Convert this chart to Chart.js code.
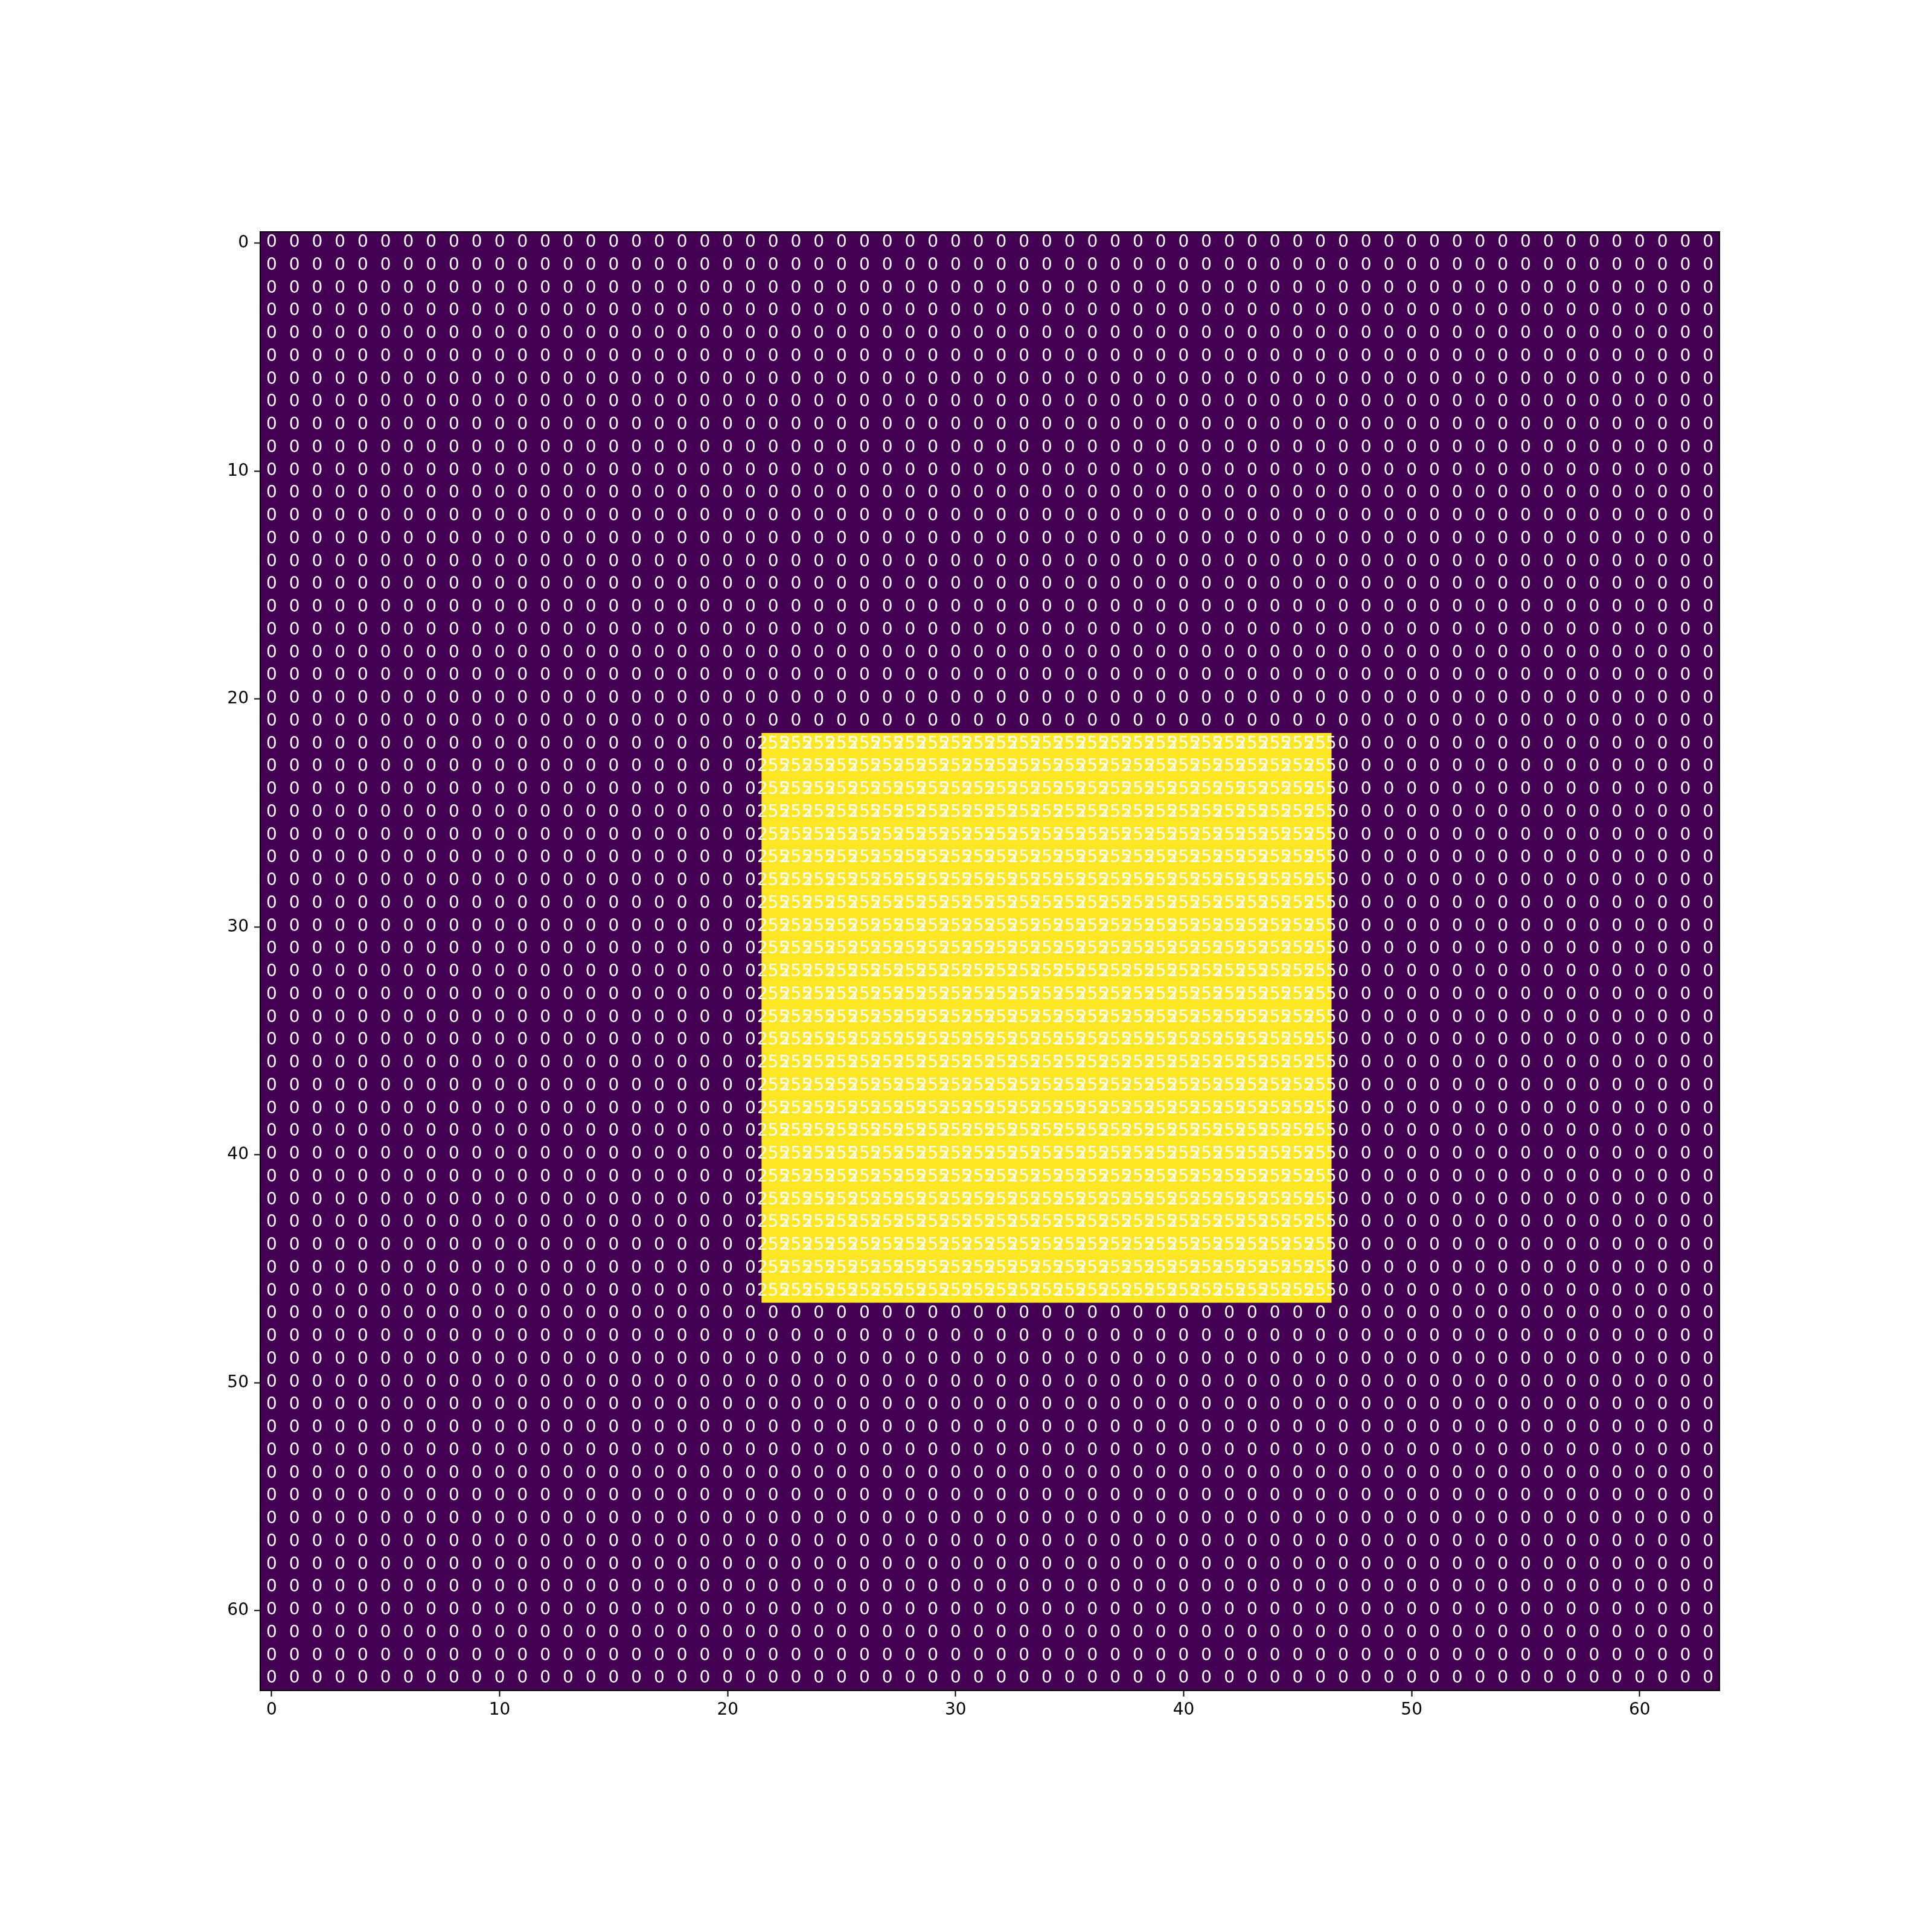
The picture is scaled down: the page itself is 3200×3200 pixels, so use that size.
<!DOCTYPE html>
<html>
<head>
<meta charset="utf-8">
<script src="https://cdn.jsdelivr.net/npm/chart.js@4.4.1/dist/chart.umd.min.js"></script>
<style>
  html, body { margin: 0; padding: 0; background: #ffffff; }
  canvas { display: block; }
</style>
</head>
<body>
<canvas id="mycan" width="3200" height="3200"></canvas>
<script>
// each row of the image, '.' = 0 and '#' = 255 (64 rows x 64 columns)
var rows = [
  "................................................................",
  "................................................................",
  "................................................................",
  "................................................................",
  "................................................................",
  "................................................................",
  "................................................................",
  "................................................................",
  "................................................................",
  "................................................................",
  "................................................................",
  "................................................................",
  "................................................................",
  "................................................................",
  "................................................................",
  "................................................................",
  "................................................................",
  "................................................................",
  "................................................................",
  "................................................................",
  "................................................................",
  "................................................................",
  "......................#########################.................",
  "......................#########################.................",
  "......................#########################.................",
  "......................#########################.................",
  "......................#########################.................",
  "......................#########################.................",
  "......................#########################.................",
  "......................#########################.................",
  "......................#########################.................",
  "......................#########################.................",
  "......................#########################.................",
  "......................#########################.................",
  "......................#########################.................",
  "......................#########################.................",
  "......................#########################.................",
  "......................#########################.................",
  "......................#########################.................",
  "......................#########################.................",
  "......................#########################.................",
  "......................#########################.................",
  "......................#########################.................",
  "......................#########################.................",
  "......................#########################.................",
  "......................#########################.................",
  "......................#########################.................",
  "................................................................",
  "................................................................",
  "................................................................",
  "................................................................",
  "................................................................",
  "................................................................",
  "................................................................",
  "................................................................",
  "................................................................",
  "................................................................",
  "................................................................",
  "................................................................",
  "................................................................",
  "................................................................",
  "................................................................",
  "................................................................",
  "................................................................"
];
var cellValues = { ".": 0, "#": 255 };
var cellColors = { 0: "#440154", 255: "#fde725" };
var xTicks = [0, 10, 20, 30, 40, 50, 60];
var yTicks = [0, 10, 20, 30, 40, 50, 60];

var points = [];
for (var r = 0; r < rows.length; r++) {
  for (var c = 0; c < rows[r].length; c++) {
    points.push({ x: c, y: r, v: cellValues[rows[r][c]] });
  }
}

var font = { family: "'DejaVu Sans'", size: 28 };

function cellSide(chart) {
  return chart.scales.x.width / rows[0].length;
}

var cellText = {
  id: 'cellText',
  afterDatasetsDraw: function(chart) {
    var ctx = chart.ctx;
    var xs = chart.scales.x, ys = chart.scales.y;
    ctx.save();
    ctx.fillStyle = '#ffffff';
    ctx.font = "28px 'DejaVu Sans'";
    ctx.textAlign = 'center';
    ctx.textBaseline = 'middle';
    for (var i = 0; i < points.length; i++) {
      var p = points[i];
      ctx.fillText(String(p.v), xs.getPixelForValue(p.x), ys.getPixelForValue(p.y) - 1);
    }
    ctx.restore();
  }
};

var frame = {
  id: 'frame',
  afterDraw: function(chart) {
    var a = chart.chartArea;
    var ctx = chart.ctx;
    ctx.save();
    ctx.strokeStyle = '#000000';
    ctx.lineWidth = 2;
    ctx.strokeRect(a.left, a.top, a.right - a.left, a.bottom - a.top);
    ctx.restore();
  }
};

var ctx = document.getElementById('mycan');
var heatmap = new Chart(ctx, {
  type: 'scatter',
  data: {
    datasets: [{
      data: points,
      pointStyle: 'rect',
      pointRadius: function(c) { return (cellSide(c.chart) + 1) / Math.SQRT2; },
      pointHoverRadius: function(c) { return (cellSide(c.chart) + 1) / Math.SQRT2; },
      pointBorderWidth: 0,
      backgroundColor: function(c) { return c.raw ? cellColors[c.raw.v] : cellColors[0]; },
      borderColor: 'rgba(0,0,0,0)'
    }]
  },
  options: {
    responsive: false,
    devicePixelRatio: 1,
    animation: false,
    events: [],
    layout: { padding: { left: 331, top: 384, right: 352, bottom: 300 } },
    plugins: { legend: { display: false }, tooltip: { enabled: false } },
    scales: {
      x: {
        type: 'linear',
        min: -0.5,
        max: 63.5,
        afterFit: function(s) { s.height = 100; },
        afterBuildTicks: function(s) { s.ticks = xTicks.map(function(v) { return { value: v }; }); },
        grid: { drawOnChartArea: false, drawTicks: true, tickLength: 10, tickColor: '#000', tickWidth: 2 },
        border: { display: false },
        ticks: { color: '#000', font: font, padding: 6, maxRotation: 0 }
      },
      y: {
        type: 'linear',
        reverse: true,
        min: -0.5,
        max: 63.5,
        afterFit: function(s) { s.width = 100; },
        afterBuildTicks: function(s) { s.ticks = yTicks.map(function(v) { return { value: v }; }); },
        grid: { drawOnChartArea: false, drawTicks: true, tickLength: 10, tickColor: '#000', tickWidth: 2 },
        border: { display: false },
        ticks: { color: '#000', font: font, padding: 9 }
      }
    }
  },
  plugins: [cellText, frame]
});
</script>
</body>
</html>
